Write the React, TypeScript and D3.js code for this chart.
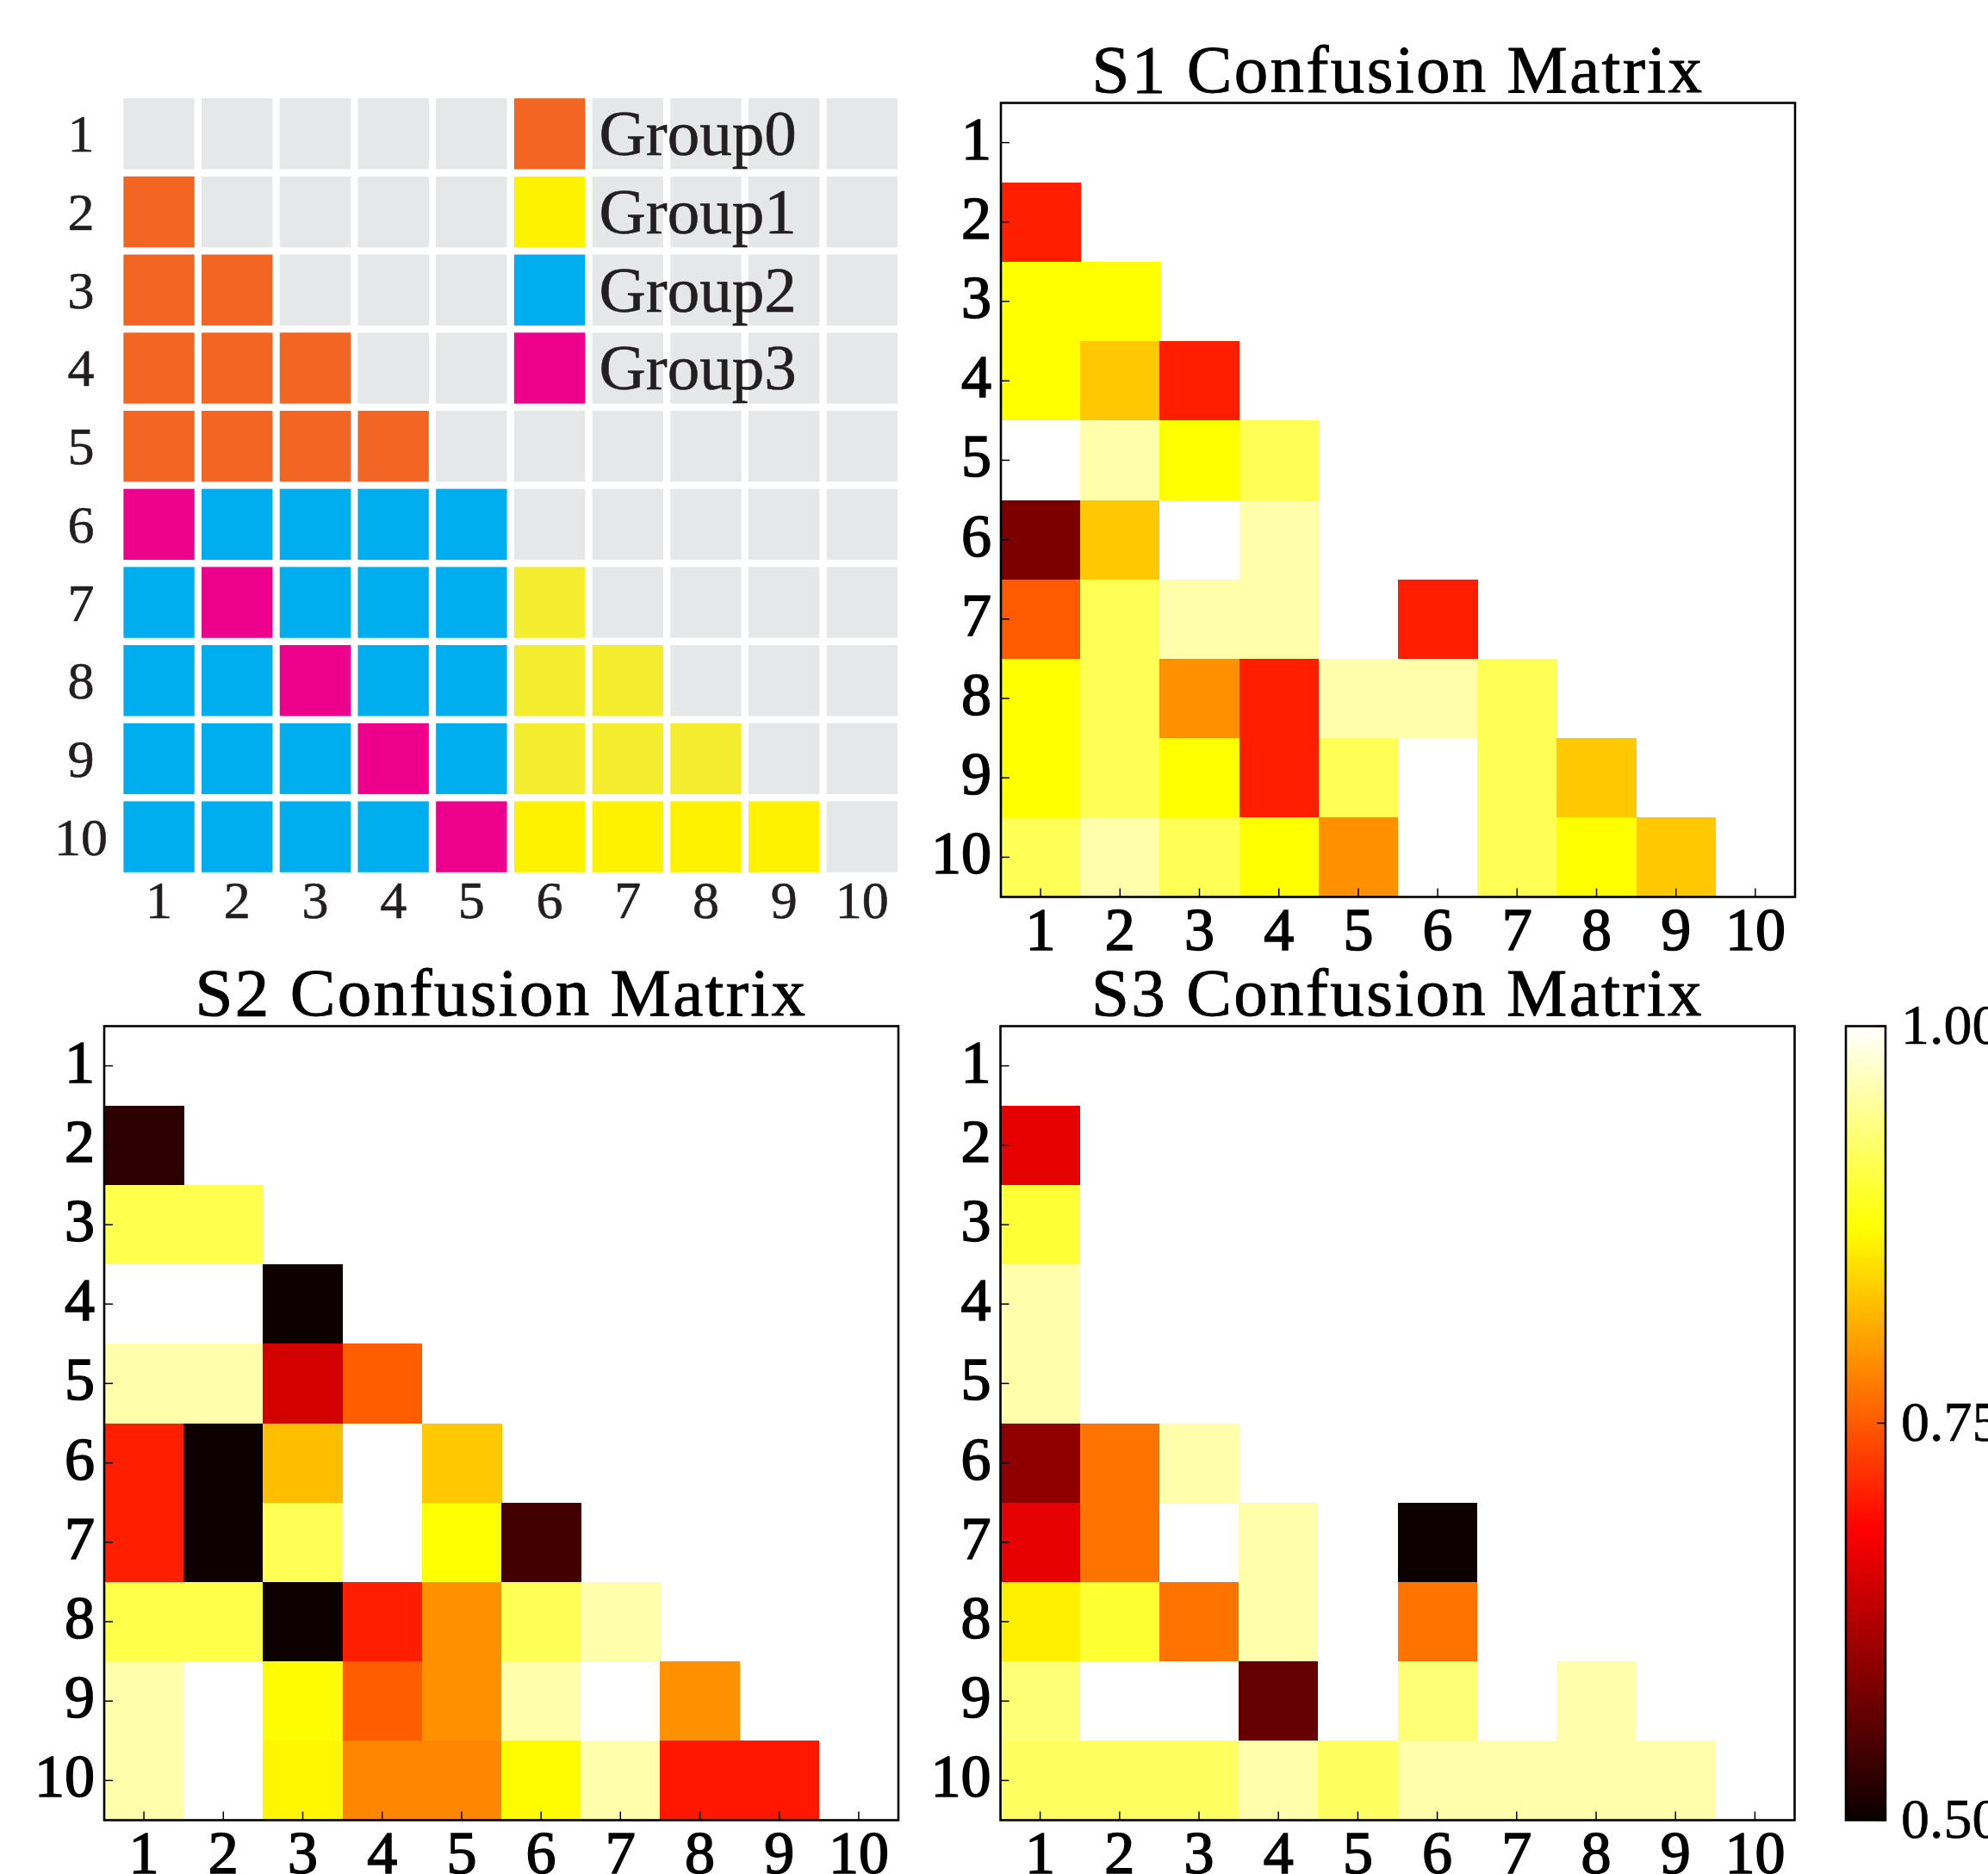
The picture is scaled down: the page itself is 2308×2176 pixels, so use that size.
import React from 'react';
import * as d3 from 'd3';

// tick labels shared by all four panels
const labels = ['1', '2', '3', '4', '5', '6', '7', '8', '9', '10'];

// group layout panel: -1 grey, 0..3 groups, 4 = pale group1 shade
const groupNames = ['Group0', 'Group1', 'Group2', 'Group3'];
const groupColors = ['#F26522', '#FFF200', '#00AEEF', '#EC008C', '#F3EC2F'];
const groupRows = [
  [],
  [0],
  [0, 0],
  [0, 0, 0],
  [0, 0, 0, 0],
  [3, 2, 2, 2, 2],
  [2, 3, 2, 2, 2, 4],
  [2, 2, 3, 2, 2, 4, 4],
  [2, 2, 2, 3, 2, 4, 4, 4],
  [2, 2, 2, 2, 3, 1, 1, 1, 1],
];

// lower triangle of each confusion matrix (row i holds columns 1..i-1)
const s1Rows = [
  [],
  [0.705],
  [0.873, 0.873],
  [0.873, 0.832, 0.705],
  [1.0, 0.958, 0.873, 0.915],
  [0.585, 0.832, 1.0, 0.958],
  [0.75, 0.915, 0.958, 0.958, 1.0, 0.705],
  [0.873, 0.915, 0.79, 0.705, 0.958, 0.958, 0.915],
  [0.873, 0.915, 0.873, 0.705, 0.915, 1.0, 0.915, 0.832],
  [0.915, 0.958, 0.915, 0.873, 0.79, 1.0, 0.915, 0.873, 0.832],
];
const s2Rows = [
  [],
  [0.525],
  [0.912, 0.912],
  [1.0, 1.0, 0.502],
  [0.958, 0.958, 0.649, 0.752],
  [0.705, 0.501, 0.825, 1.0, 0.832],
  [0.705, 0.501, 0.915, 1.0, 0.874, 0.541],
  [0.91, 0.91, 0.502, 0.705, 0.79, 0.915, 0.958],
  [0.958, 1.0, 0.87, 0.752, 0.79, 0.958, 1.0, 0.79],
  [0.958, 1.0, 0.866, 0.783, 0.783, 0.87, 0.958, 0.7, 0.7],
];
const s3Rows = [
  [],
  [0.664],
  [0.9],
  [0.958],
  [0.958],
  [0.6, 0.769, 0.958],
  [0.664, 0.769, 1.0, 0.958, 1.0, 0.502],
  [0.862, 0.898, 0.769, 0.958, 1.0, 0.769, 1.0],
  [0.932, 1.0, 1.0, 0.567, 1.0, 0.932, 1.0, 0.958],
  [0.922, 0.922, 0.922, 0.958, 0.922, 0.958, 0.958, 0.958, 0.958],
];
const cbTicks = [0.5, 0.75, 1.0];
const cbTickLabels = ['0.50', '0.75', '1.00'];

const W = 2308;
const H = 2176;
const FONT = '"Liberation Serif", "DejaVu Serif", serif';

// matplotlib "hot"
const K1 = 0.365079;
const K2 = 0.746032;
function hot(t: number) {
  t = Math.max(0, Math.min(1, t));
  const r = t < K1 ? 0.0416 + ((1 - 0.0416) * t) / K1 : 1;
  const g = t < K1 ? 0 : t < K2 ? (t - K1) / (K2 - K1) : 1;
  const b = t < K2 ? 0 : (t - K2) / (1 - K2);
  return d3.rgb(r * 255, g * 255, b * 255).formatHex();
}
const norm = d3.scaleLinear().domain([0.5, 1]).range([0, 1]).clamp(true);

function GroupPanel() {
  const pad = 0.0915;
  const x = d3.scaleBand<string>().domain(labels).range([139.2, 1046.2]).paddingInner(pad).paddingOuter(pad / 2);
  const y = d3.scaleBand<string>().domain(labels).range([110, 1017]).paddingInner(pad).paddingOuter(pad / 2);
  const bw = x.bandwidth();
  const cells: React.ReactNode[] = [];
  labels.forEach((r, i) => {
    labels.forEach((c, j) => {
      const g = groupRows[i][j];
      let fill = g === undefined ? '#E6E7E8' : groupColors[g];
      // legend swatches sit in column 6, rows 1-4
      if (j === 5 && i < groupNames.length) fill = groupColors[i];
      cells.push(<rect key={`${r}-${c}`} x={x(c)} y={y(r)} width={bw} height={y.bandwidth()} fill={fill} />);
    });
  });
  return (
    <g fontFamily={FONT} fill="#231F20" stroke="#231F20" strokeWidth={0.6}>
      <g stroke="none">{cells}</g>
      {groupNames.map((n, i) => (
        <text key={n} x={(x('7') as number) + 8} y={(y(labels[i]) as number) + y.bandwidth() / 2 + 25} fontSize={75}>
          {n}
        </text>
      ))}
      {labels.map((l) => (
        <text key={'y' + l} x={94} y={(y(l) as number) + y.bandwidth() / 2 + 21} fontSize={62} textAnchor="middle">
          {l}
        </text>
      ))}
      {labels.map((l) => (
        <text key={'x' + l} x={(x(l) as number) + bw / 2} y={1066} fontSize={62} textAnchor="middle">
          {l}
        </text>
      ))}
    </g>
  );
}

function MatrixPanel({ x0, y0, title, rows }: { x0: number; y0: number; title: string; rows: number[][] }) {
  const size = 922;
  const x = d3.scaleBand<string>().domain(labels).range([x0, x0 + size]);
  const y = d3.scaleBand<string>().domain(labels).range([y0, y0 + size]);
  const bw = x.bandwidth();
  const cells: React.ReactNode[] = [];
  rows.forEach((row, i) =>
    row.forEach((v, j) => {
      cells.push(
        <rect key={`${i}-${j}`} x={x(labels[j])} y={y(labels[i])} width={bw + 0.5} height={bw + 0.5} fill={hot(norm(v))} shapeRendering="crispEdges" />
      );
    })
  );
  return (
    <g fontFamily={FONT}>
      {cells}
      <rect x={x0} y={y0} width={size} height={size} fill="none" stroke="#000" strokeWidth={2.6} />
      {labels.map((l) => {
        const cx = (x(l) as number) + bw / 2;
        const cy = (y(l) as number) + bw / 2;
        return (
          <g key={l}>
            <line x1={cx} x2={cx} y1={y0 + size} y2={y0 + size - 10} stroke="#000" strokeWidth={1.5} />
            <line x1={x0} x2={x0 + 10} y1={cy} y2={cy} stroke="#000" strokeWidth={1.5} />
            <text x={cx} y={y0 + size + 61.5} fontSize={70} textAnchor="middle" stroke="#000" strokeWidth={1.6}>{l}</text>
            <text x={x0 - 11} y={cy + 19} fontSize={70} textAnchor="end" stroke="#000" strokeWidth={1.6}>{l}</text>
          </g>
        );
      })}
      <text x={x0 + size / 2} y={y0 - 13} fontSize={79} textAnchor="middle" letterSpacing={2.3} stroke="#000" strokeWidth={0.9}>
        {title}
      </text>
    </g>
  );
}

function ColorBar() {
  const x0 = 2143;
  const w = 46;
  const y = d3.scaleLinear().domain([0.5, 1]).range([2113.5, 1191.5]);
  const stops = [0, K1, K2, 1];
  return (
    <g fontFamily={FONT}>
      <defs>
        <linearGradient id="hotgrad" x1="0" y1="1" x2="0" y2="0">
          {stops.map((s) => (
            <stop key={s} offset={s} stopColor={hot(s)} />
          ))}
        </linearGradient>
      </defs>
      <rect x={x0} y={y(1)} width={w} height={y(0.5) - y(1)} fill="url(#hotgrad)" stroke="#000" strokeWidth={2.6} />
      {cbTicks.map((t, i) => (
        <g key={t}>
          <line x1={x0 + w - 10} x2={x0 + w} y1={y(t)} y2={y(t)} stroke="#000" strokeWidth={1.5} />
          <text x={2207} y={y(t) + 20} fontSize={66} stroke="#000" strokeWidth={0.6}>{cbTickLabels[i]}</text>
        </g>
      ))}
    </g>
  );
}

export default function App() {
  return (
    <svg width={W} height={H} style={{ position: 'absolute', left: 0, top: 0, background: '#fff' }}>
      <rect width={W} height={H} fill="#fff" />
      <GroupPanel />
      <MatrixPanel x0={1162} y0={119.5} title="S1 Confusion Matrix" rows={s1Rows} />
      <MatrixPanel x0={121} y0={1191.5} title="S2 Confusion Matrix" rows={s2Rows} />
      <MatrixPanel x0={1161.5} y0={1191.5} title="S3 Confusion Matrix" rows={s3Rows} />
      <ColorBar />
    </svg>
  );
}
